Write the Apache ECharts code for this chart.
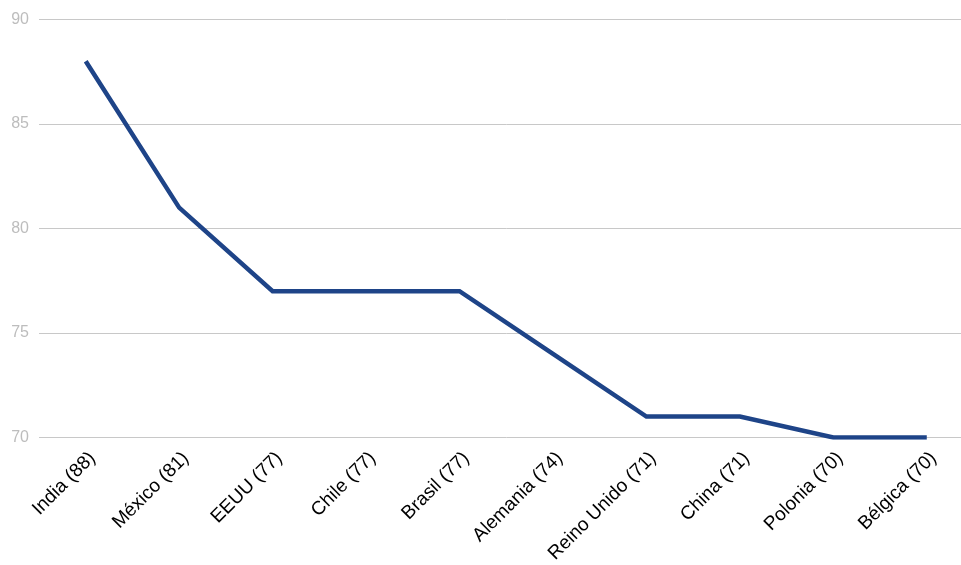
<!DOCTYPE html>
<html>
<head>
<meta charset="utf-8">
<script src="https://cdn.jsdelivr.net/npm/echarts@6/dist/echarts.min.js"></script>
<style>html,body{margin:0;padding:0;background:#fff;overflow:hidden;width:961px;height:565px;}#c{width:975px;height:565px;}</style>
</head>
<body>
<div id="c"></div>
<script>
const categories = ['India (88)', 'México (81)', 'EEUU (77)', 'Chile (77)', 'Brasil (77)', 'Alemania (74)', 'Reino Unido (71)', 'China (71)', 'Polonia (70)', 'Bélgica (70)'];
const values = [88, 81, 77, 77, 77, 74, 71, 71, 70, 70];
const yTicks = [70, 75, 80, 85, 90];

const chart = echarts.init(document.getElementById('c'), null, {renderer: 'canvas'});
chart.setOption({
  animation: false,
  backgroundColor: '#ffffff',
  grid: {left: 39, right: 1.5, top: 19.5, height: 418, containLabel: false, outerBoundsMode: 'none'},
  xAxis: {
    type: 'category',
    data: categories,
    boundaryGap: true,
    axisLine: {show: false},
    axisTick: {show: false},
    axisLabel: {
      rotate: 45,
      interval: 0,
      margin: 11,
      verticalAlign: 'top',
      color: '#000000',
      fontSize: 19,
      fontFamily: 'Liberation Sans, Arial, sans-serif'
    },
    splitLine: {show: false}
  },
  yAxis: {
    type: 'value',
    min: yTicks[0],
    max: yTicks[yTicks.length - 1],
    interval: 5,
    axisLine: {show: false},
    axisTick: {show: false},
    axisLabel: {
      margin: 10,
      color: '#bdbdbd',
      fontSize: 16,
      fontFamily: 'Liberation Sans, Arial, sans-serif'
    },
    splitLine: {lineStyle: {color: '#c8c8c8', width: 1}}
  },
  series: [{
    type: 'line',
    data: values,
    showSymbol: false,
    symbol: 'none',
    lineStyle: {color: '#1e4488', width: 4.5, cap: 'butt', join: 'miter'}
  }]
});
</script>
</body>
</html>
